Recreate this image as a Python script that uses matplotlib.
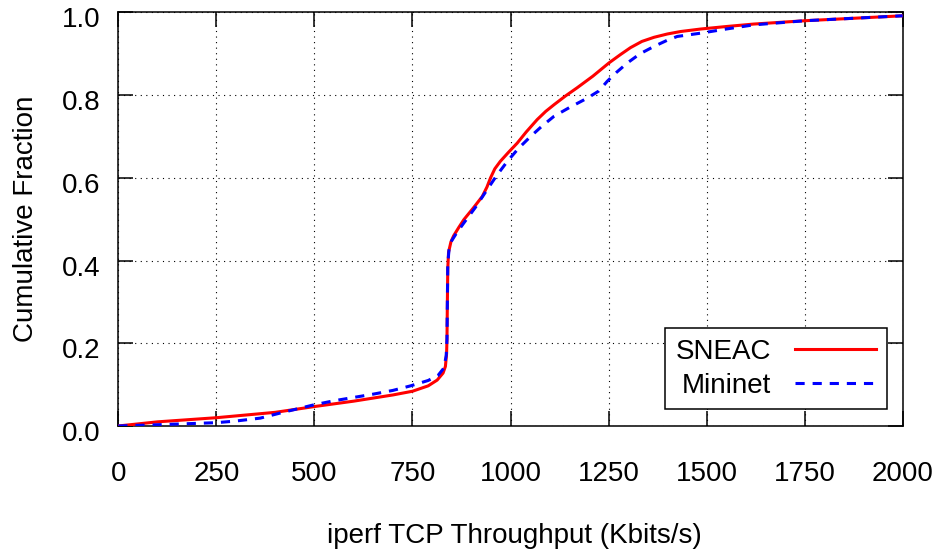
#!/usr/bin/env python3
import matplotlib
matplotlib.use("Agg")
import matplotlib.pyplot as plt
import matplotlib.transforms as mtransforms

# CDF points (throughput in Kbits/s, cumulative fraction)
sneac_x = [0, 100, 250, 400, 500, 600, 700, 750, 790, 813, 828, 834, 837, 838,
           839, 840, 842, 848, 855, 868, 881, 905, 928, 940, 949, 960, 974, 995,
           1017, 1040, 1068, 1090, 1111, 1140, 1170, 1210, 1251, 1280, 1306,
           1335, 1366, 1400, 1434, 1485, 1550, 1620, 1750, 1875, 2000]
sneac_y = [0.0, 0.010, 0.020, 0.033, 0.047, 0.060, 0.075, 0.084, 0.097, 0.111,
           0.128, 0.144, 0.175, 0.21, 0.30, 0.38, 0.420, 0.445, 0.460, 0.480,
           0.499, 0.527, 0.555, 0.578, 0.600, 0.622, 0.640, 0.662, 0.684, 0.711,
           0.741, 0.761, 0.777, 0.798, 0.818, 0.846, 0.878, 0.898, 0.915, 0.930,
           0.940, 0.948, 0.954, 0.960, 0.966, 0.972, 0.980, 0.986, 0.992]

mininet_x = [0, 100, 250, 300, 362, 420, 498, 550, 600, 650, 700, 745, 790, 815,
             830, 836, 838, 839, 840, 843, 850, 862, 881, 910, 940, 965, 992,
             1020, 1051, 1080, 1111, 1150, 1196, 1225, 1247, 1270, 1298, 1330,
             1366, 1400, 1425, 1485, 1550, 1620, 1750, 1875, 2000]
mininet_y = [0.0, 0.003, 0.008, 0.012, 0.019, 0.033, 0.051, 0.061, 0.069, 0.077,
             0.086, 0.097, 0.110, 0.122, 0.140, 0.170, 0.21, 0.30, 0.39, 0.425,
             0.448, 0.466, 0.491, 0.528, 0.571, 0.606, 0.640, 0.671, 0.700, 0.725,
             0.749, 0.770, 0.793, 0.810, 0.834, 0.855, 0.878, 0.900, 0.918, 0.933,
             0.942, 0.950, 0.960, 0.970, 0.980, 0.986, 0.992]

x_ticks = [0, 250, 500, 750, 1000, 1250, 1500, 1750, 2000]
y_ticks = [0.0, 0.2, 0.4, 0.6, 0.8, 1.0]

plt.rcParams['font.family'] = ['Liberation Sans', 'DejaVu Sans']
plt.rcParams['font.size'] = 20

fig = plt.figure(figsize=(9.42, 5.52), dpi=100)
ax = fig.add_axes([0.1256, 0.2283, 0.8327, 0.7491])

ax.plot(sneac_x, sneac_y, color='#ff0000', lw=2.2, label='SNEAC', zorder=3)
ax.plot(mininet_x, mininet_y, color='#0000ff', lw=2.2, ls=(0, (3, 2.6)),
        label='Mininet', zorder=4)

ax.set_xlim(0, 2000)
ax.set_ylim(0, 1.0)
ax.set_xticks(x_ticks)
ax.set_yticks(y_ticks)
ax.set_yticklabels(['%.1f' % v for v in y_ticks])

ax.grid(True, color='black', lw=0.8, ls=(0, (1, 4)))
ax.tick_params(axis='both', direction='in', length=11, width=1.1,
               top=True, right=True, labelsize=20, colors='black')
ax.tick_params(axis='x', pad=25)
ax.tick_params(axis='y', pad=13)
for s in ax.spines.values():
    s.set_linewidth(1.1)

# gnuplot puts the y labels a little below their ticks
shift = mtransforms.ScaledTranslation(0, -0.05, fig.dpi_scale_trans)
for lab in ax.get_yticklabels():
    lab.set_transform(lab.get_transform() + shift)

ax.set_xlabel('iperf TCP Throughput (Kbits/s)', fontsize=20)
ax.set_ylabel('Cumulative Fraction', fontsize=20)
ax.xaxis.set_label_coords(0.505, -0.234)
ax.yaxis.set_label_coords(-0.101, 0.5)

leg = ax.legend(loc='lower right', bbox_to_anchor=(0.98, 0.04),
                borderaxespad=0, markerfirst=False, fancybox=False,
                framealpha=1, edgecolor='black', handlelength=2.95,
                handletextpad=0.84, borderpad=0.38, labelspacing=0.3,
                fontsize=20)
leg.get_frame().set_linewidth(1.1)
leg.set_zorder(5)

fig.savefig('out.png', dpi=100)
